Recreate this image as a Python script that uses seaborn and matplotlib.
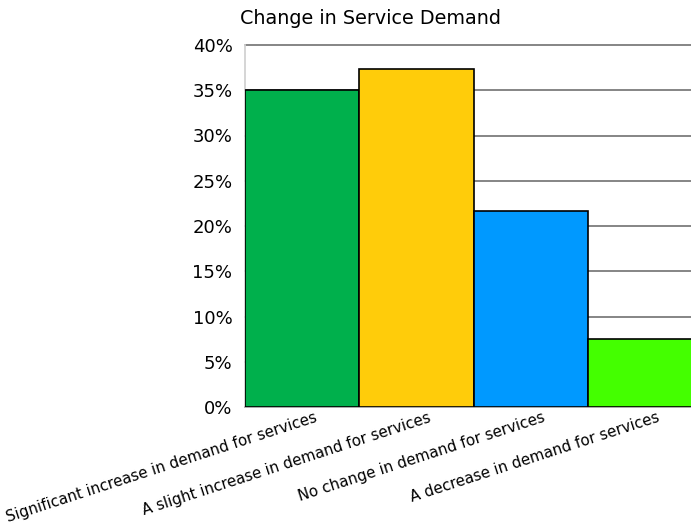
import matplotlib
matplotlib.use("Agg")
import matplotlib.pyplot as plt
import matplotlib.transforms as mtransforms
import seaborn as sns
import pandas as pd

categories = [
    "Significant increase in demand for services",
    "A slight increase in demand for services",
    "No change in demand for services",
    "A decrease in demand for services",
]
shares = [35.0, 37.3, 21.7, 7.5]
colors = ["#00B04C", "#FFCC0A", "#0099FF", "#44FF00"]
y_ticks = [0, 5, 10, 15, 20, 25, 30, 35, 40]
y_tick_labels = [f"{v}%" for v in y_ticks]

df = pd.DataFrame({"category": categories, "share": shares})

sns.set_theme(style="white")
plt.rcParams["font.family"] = ["DejaVu Sans"]
plt.rcParams["text.color"] = "black"
plt.rcParams["ytick.color"] = "black"

fig = plt.figure(figsize=(6.91, 5.29), dpi=100)
ax = fig.add_axes([245 / 691, 1 - 407 / 529, 457 / 691, 362 / 529])

sns.barplot(data=df, x="category", y="share", hue="category", palette=colors,
            saturation=1, width=1.0, edgecolor="black", linewidth=1.2,
            legend=False, ax=ax, zorder=3)

ax.set_xlim(-0.5, 3.5)
ax.set_ylim(0, 40)
ax.set_yticks(y_ticks)
ax.set_yticklabels(y_tick_labels, fontsize=13, color="black")
ax.yaxis.grid(True, color="#858585", linewidth=1.4, zorder=0)
for gl in ax.yaxis.get_gridlines():
    gl.set_clip_on(False)
ax.set_axisbelow(True)

# category-axis ticks sit between the bars
ax.set_xticks([-0.5, 0.5, 1.5, 2.5, 3.5])
ax.set_xticklabels([])
ax.tick_params(axis="x", length=5, color="#b0b0b0", width=1, direction="out")
ax.tick_params(axis="y", length=5, color="#b0b0b0", width=1, direction="out",
               pad=4, labelcolor="black")

offset = mtransforms.ScaledTranslation(12 / 100, -3 / 100, fig.dpi_scale_trans)
for i, label in enumerate(categories):
    ax.text(i, 0, label, transform=ax.get_xaxis_transform() + offset,
            rotation=18, ha="right", va="top", rotation_mode="anchor",
            fontsize=10.8, color="black")

for side in ["top", "right"]:
    ax.spines[side].set_visible(False)
ax.spines["left"].set_color("#d0d0d0")
ax.spines["bottom"].set_color("#b0b0b0")
ax.set_xlabel("")
ax.set_ylabel("")

fig.text(240 / 691, 1 - 18 / 529, "Change in Service Demand", fontsize=13.8,
         ha="left", va="center", color="black")

fig.savefig("out.png", dpi=100)
